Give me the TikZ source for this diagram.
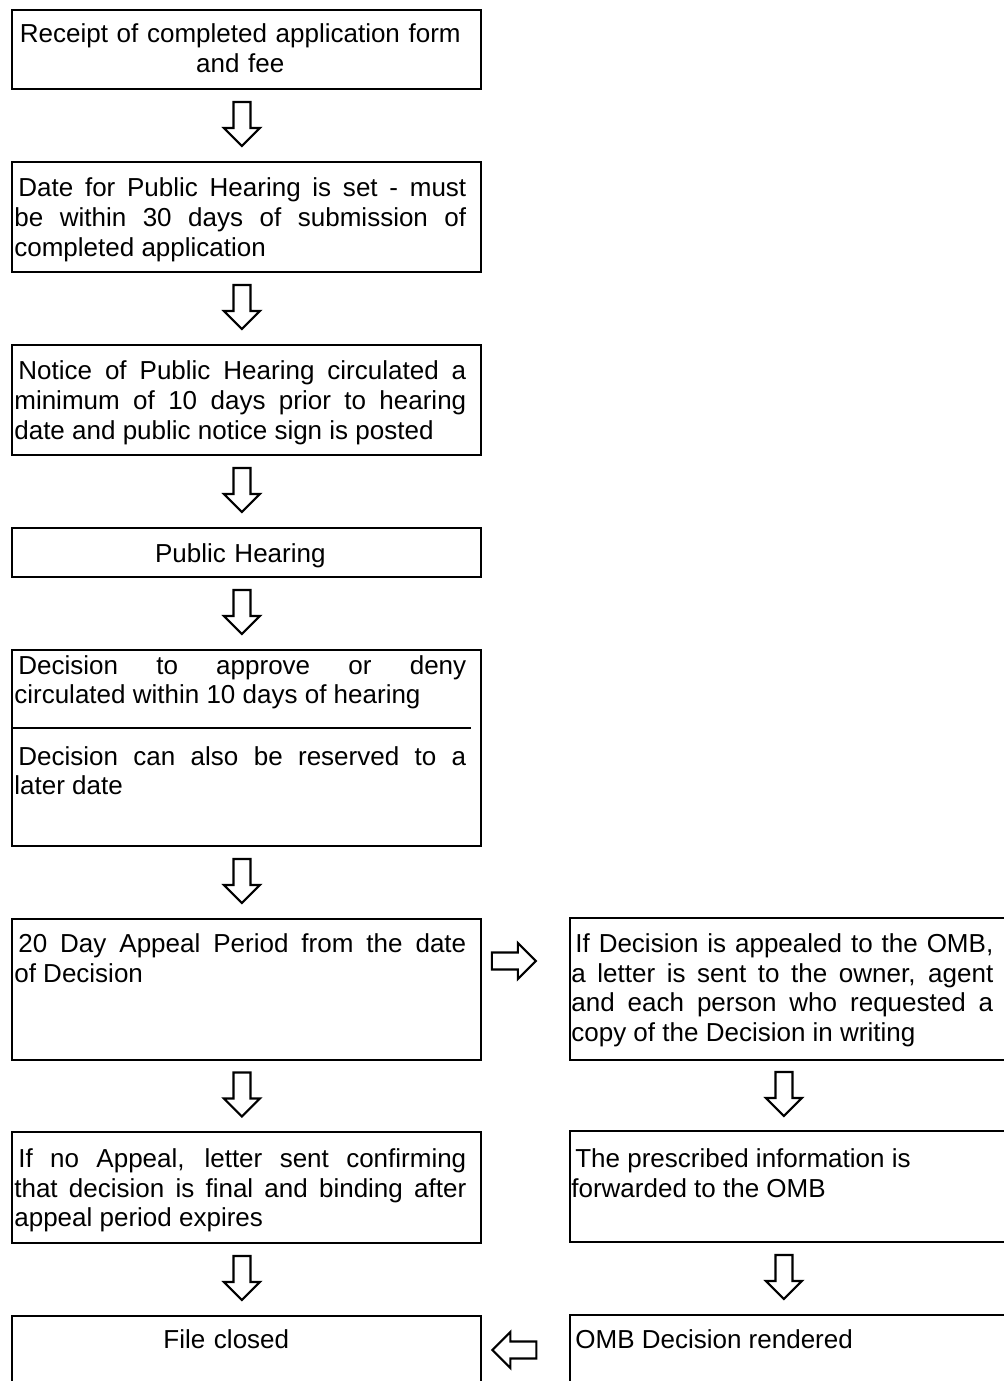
\documentclass[tikz,border=0pt]{standalone}
\usepackage{fontspec}
\setmainfont{Liberation Sans}
\usetikzlibrary{calc,positioning}
\tikzset{
  procbox/.style  = {draw, line width=1.1pt, rectangle, inner sep=0pt, outer sep=0pt,
                     anchor=north west, minimum width=9.38cm},
  sidebox/.style  = {procbox, minimum width=8.8cm},
  proctext/.style = {anchor=base west, inner sep=0pt, text width=9.04cm, align=justify,
                     font=\fontsize{14.8}{17.07}\selectfont},
  sidetext/.style = {proctext, text width=8.44cm},
  midtext/.style  = {proctext, align=center},
  divline/.style  = {line width=1.1pt},
  blockarr/.style = {draw, line width=1.2pt, fill=white, line join=miter},
  downarr/.pic    = {\path[blockarr] (-8.5,22) -- (8.5,22) -- (8.5,-4) -- (18,-4)
                       -- (0,-22) -- (-18,-4) -- (-8.5,-4) -- cycle;},
}
\newcommand{\lead}{\hspace*{0.08cm}}

\begin{document}
\begin{tikzpicture}[x=0.02cm, y=0.02cm]
\useasboundingbox (0,0) rectangle (1003,-1381);

% main column
\node[procbox, minimum height=1.58cm] (b1) at (12,-10)   {};
\node[procbox, minimum height=2.2cm]  (b2) at (12,-162)  {};
\node[procbox, minimum height=2.2cm]  (b3) at (12,-345)  {};
\node[procbox, minimum height=0.98cm] (b4) at (12,-528)  {};
\node[procbox, minimum height=3.92cm] (b5) at (12,-650)  {};
\node[procbox, minimum height=2.82cm] (b6) at (12,-919)  {};
\node[procbox, minimum height=2.22cm] (b7) at (12,-1132) {};
\node[procbox, minimum height=2.0cm]  (b8) at (12,-1316) {};

% appeal column
\node[sidebox, minimum height=2.84cm] (r1) at (570,-918)  {};
\node[sidebox, minimum height=2.22cm] (r2) at (570,-1131) {};
\node[sidebox, minimum height=2.0cm]  (r3) at (570,-1315) {};

\draw[divline] ($(b5.north west)+(0,-78)$) -- ++(459,0);

% texts
\node[midtext]  (t1)  at ($(b1.north west)+(2,-33)$)
  {Receipt of completed application form\\and fee};
\node[proctext] (t2)  at ($(b2.north west)+(2,-35)$)
  {\lead Date for Public Hearing is set - must\linebreak be within 30 days of submission of\linebreak completed application};
\node[proctext] (t3)  at ($(b3.north west)+(2,-35)$)
  {\lead Notice of Public Hearing circulated a\linebreak minimum of 10 days prior to hearing\linebreak date and public notice sign is posted};
\node[midtext]  (t4)  at ($(b4.north west)+(2,-34)$) {Public Hearing};
\node[proctext] (t5a) at ($(b5.north west)+(2,-24)$)
  {\lead Decision to approve or deny\linebreak circulated within 10 days of hearing};
\node[proctext] (t5b) at ($(b5.north west)+(2,-115)$)
  {\lead Decision can also be reserved to a\linebreak later date};
\node[proctext] (t6)  at ($(b6.north west)+(2,-33)$)
  {\lead 20 Day Appeal Period from the date\linebreak of Decision};
\node[proctext] (t7)  at ($(b7.north west)+(2,-35)$)
  {\lead If no Appeal, letter sent confirming\linebreak that decision is final and binding after\linebreak appeal period expires};
\node[midtext]  (t8)  at ($(b8.north west)+(-12,-32)$) {File closed};
\node[sidetext] (s1)  at ($(r1.north west)+(1,-34)$)
  {\lead If Decision is appealed to the OMB,\linebreak a letter is sent to the owner, agent\linebreak and each person who requested a\linebreak copy of the Decision in writing};
\node[sidetext] (s2)  at ($(r2.north west)+(1,-36)$)
  {\lead The prescribed information is\\forwarded to the OMB};
\node[sidetext] (s3)  at ($(r3.north west)+(1,-33)$)
  {\lead OMB Decision rendered};

% block arrows
\pic at ($(b1.south)!0.5!(b2.north)+(-4.5,1.5)$) {downarr};
\pic at ($(b2.south)!0.5!(b3.north)+(-4.5,1.5)$) {downarr};
\pic at ($(b3.south)!0.5!(b4.north)+(-4.5,1.5)$) {downarr};
\pic at ($(b4.south)!0.5!(b5.north)+(-4.5,1.5)$) {downarr};
\pic at ($(b5.south)!0.5!(b6.north)+(-4.5,1.5)$) {downarr};
\pic at ($(b6.south)!0.5!(b7.north)+(-4.5,1.5)$) {downarr};
\pic at ($(b7.south)!0.5!(b8.north)+(-4.5,1.5)$) {downarr};
\pic at ($(r1.south)!0.5!(r2.north)+(-6,1.5)$)   {downarr};
\pic at ($(r2.south)!0.5!(r3.north)+(-6,1.5)$)   {downarr};
\pic[rotate=90]  at ($(b6.north east)+(33,-42)$) {downarr};
\pic[rotate=-90] at ($(b8.north east)+(33.5,-34)$) {downarr};
\end{tikzpicture}
\end{document}
